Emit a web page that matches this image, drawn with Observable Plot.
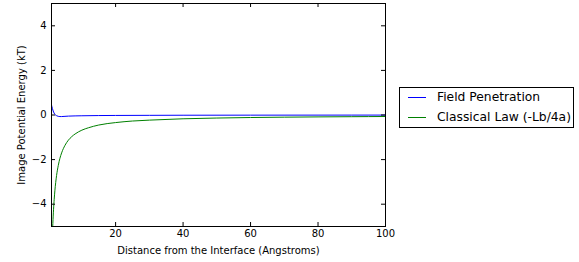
<!DOCTYPE html>
<html>
<head>
<meta charset="utf-8">
<script src="https://cdn.jsdelivr.net/npm/d3@7"></script>
<script src="https://cdn.jsdelivr.net/npm/@observablehq/plot@0.6"></script>
<style>
  body { margin: 0; background: #fff; }
  #wrap { position: relative; width: 579px; height: 262px; font-family: "DejaVu Sans", sans-serif; }
  #legend { position: absolute; left: 399px; top: 87px; width: 173px; height: 39px; border: 1px solid #000; background: #fff; font-size: 12.3px; }
  .sw { position: absolute; left: 8px; width: 18px; height: 1px; }
  .lab { position: absolute; left: 37px; white-space: nowrap; line-height: 14px; }
</style>
</head>
<body>
<div id="wrap"></div>
<script>
// Distance from the interface (Angstroms)
const fieldX = [1, 1.25, 1.5, 1.75, 2, 2.5, 3, 3.5, 4, 5, 6, 8, 10, 15, 20, 30, 40, 60, 80, 100];
// Field Penetration (kT)
const fieldY = [0.45, 0.3, 0.18, 0.09, 0.03, -0.03, -0.06, -0.07, -0.07, -0.06, -0.05, -0.04, -0.035, -0.025, -0.02, -0.015, -0.01, -0.007, -0.005, -0.004];
// Classical Law (-Lb/4a) (kT)
const classX = [1, 1.2, 1.4, 1.6, 1.8, 2, 2.5, 3, 3.5, 4, 5, 6, 7, 8, 10, 12, 15, 20, 25, 30, 40, 50, 60, 70, 80, 90, 100];
const classY = [-6.8, -5.67, -4.86, -4.25, -3.78, -3.4, -2.72, -2.27, -1.94, -1.7, -1.36, -1.13, -0.97, -0.85, -0.68, -0.57, -0.45, -0.34, -0.27, -0.23, -0.17, -0.136, -0.113, -0.097, -0.085, -0.076, -0.068];
const xTicks = [20, 40, 60, 80, 100];
const yTicks = [-4, -2, 0, 2, 4];
const seriesNames = ["Field Penetration", "Classical Law (-Lb/4a)"];
const seriesColors = ["#0000ff", "#008000"];

const field = fieldX.map((x, i) => ({x, y: fieldY[i]}));
const classical = classX.map((x, i) => ({x, y: classY[i]}));

const W = 579, H = 262, mT = 3, mB = 36, mL = 51, mR = 194;
const ph = H - mT - mB, pw = W - mL - mR;

const chart = Plot.plot({
  width: W, height: H,
  marginTop: mT, marginBottom: mB, marginLeft: mL, marginRight: mR,
  style: {fontFamily: "DejaVu Sans, sans-serif", fontSize: "10px", color: "#000", background: "#fff"},
  x: {domain: [1, 100], ticks: xTicks},
  y: {domain: [-5, 5], ticks: yTicks},
  marks: [
    Plot.lineY(classical, {x: "x", y: "y", stroke: seriesColors[1], strokeWidth: 1, curve: "monotone-x", clip: true}),
    Plot.lineY(field, {x: "x", y: "y", stroke: seriesColors[0], strokeWidth: 1, curve: "monotone-x", clip: true}),
    // inward ticks on all four sides
    Plot.gridX(xTicks, {stroke: "#000", strokeOpacity: 1, insetTop: ph - 4}),
    Plot.gridX(xTicks, {stroke: "#000", strokeOpacity: 1, insetBottom: ph - 4}),
    Plot.gridY(yTicks, {stroke: "#000", strokeOpacity: 1, insetRight: pw - 4}),
    Plot.gridY(yTicks, {stroke: "#000", strokeOpacity: 1, insetLeft: pw - 4}),
    Plot.axisX(xTicks, {tickSize: 0, tickPadding: 3, label: "Distance from the Interface (Angstroms)", labelArrow: "none", labelAnchor: "center", labelOffset: 27, fontSize: 10}),
    Plot.axisY(yTicks, {tickSize: 0, tickPadding: 5, label: "Image Potential Energy (kT)", labelArrow: "none", labelAnchor: "center", labelOffset: 34, fontSize: 10}),
    Plot.frame({stroke: "#000", strokeWidth: 1})
  ]
});

const wrap = document.getElementById("wrap");
wrap.appendChild(chart);

const legend = document.createElement("div");
legend.id = "legend";
seriesNames.forEach((name, i) => {
  const sw = document.createElement("div");
  sw.className = "sw";
  sw.style.top = (9 + i * 20) + "px";
  sw.style.background = seriesColors[i];
  const t = document.createElement("div");
  t.className = "lab";
  t.style.top = (2 + i * 20) + "px";
  t.textContent = name;
  legend.appendChild(sw);
  legend.appendChild(t);
});
wrap.appendChild(legend);
</script>
</body>
</html>
